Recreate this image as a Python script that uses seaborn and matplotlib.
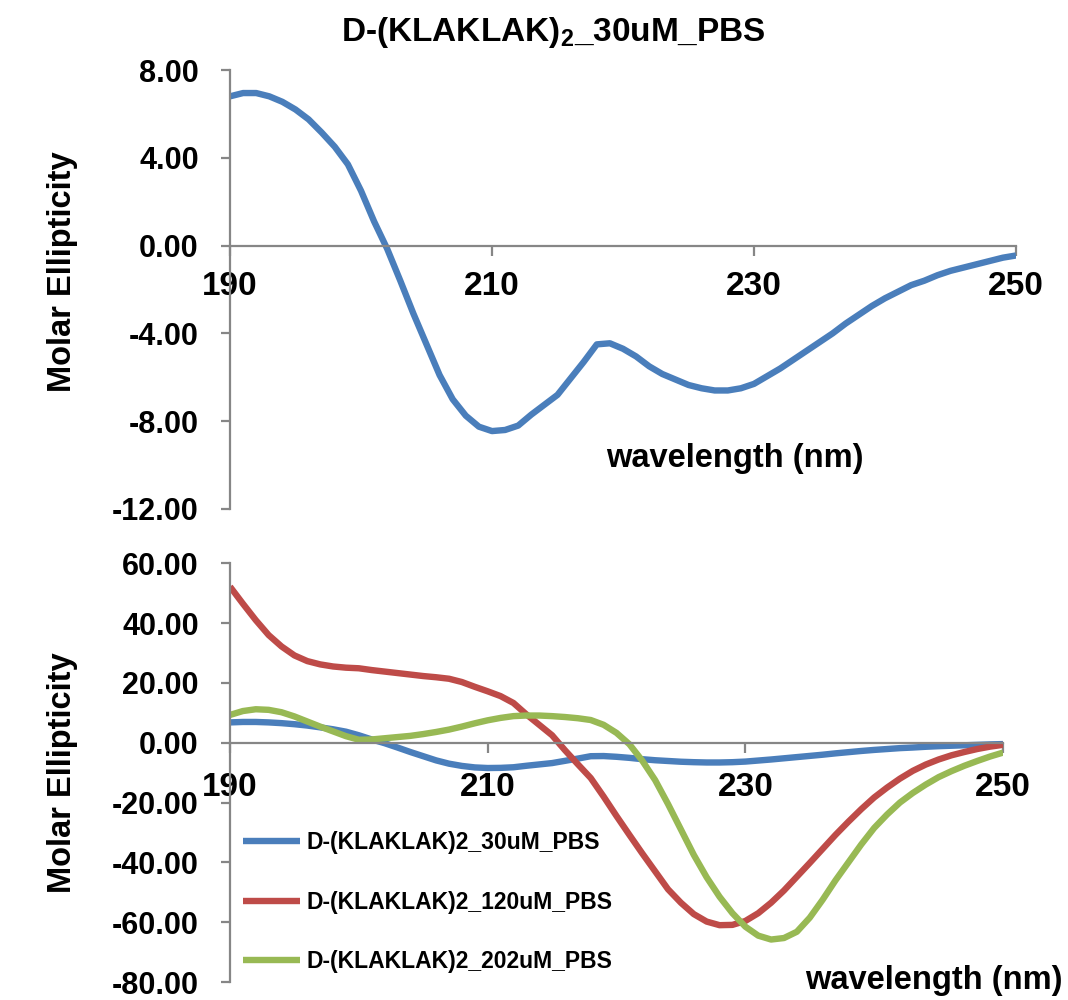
import numpy as np
import pandas as pd
import matplotlib
matplotlib.use("Agg")
import matplotlib.pyplot as plt
import seaborn as sns

# ---------------- data ----------------
wavelength = list(range(190, 251))

ellip_30uM = [6.8, 6.95, 6.95, 6.8, 6.55, 6.2, 5.75, 5.15, 4.5, 3.7,
              2.5, 1.1, -0.15, -1.6, -3.1, -4.5, -5.9, -7.0, -7.75, -8.25,
              -8.45, -8.4, -8.2, -7.7, -7.25, -6.8, -6.05, -5.3, -4.5, -4.45,
              -4.7, -5.05, -5.5, -5.85, -6.1, -6.35, -6.5, -6.6, -6.6, -6.5,
              -6.3, -5.95, -5.6, -5.2, -4.8, -4.4, -4.0, -3.55, -3.15, -2.75,
              -2.4, -2.1, -1.8, -1.6, -1.35, -1.15, -1.0, -0.85, -0.7, -0.55,
              -0.45]

ellip_120uM = [52.2, 46.5, 41.0, 36.0, 32.2, 29.2, 27.3, 26.2, 25.5, 25.1,
               24.9, 24.3, 23.8, 23.3, 22.8, 22.3, 21.9, 21.4, 20.3, 18.7,
               17.2, 15.6, 13.3, 9.5, 6.0, 2.5, -2.5, -7.2, -11.8, -18.0,
               -24.5, -30.8, -37.0, -43.0, -49.0, -53.5, -57.3, -59.8, -61.0, -60.9,
               -59.6, -57.0, -53.5, -49.4, -44.8, -40.2, -35.5, -30.8, -26.4, -22.2,
               -18.3, -15.0, -12.0, -9.4, -7.3, -5.6, -4.2, -3.1, -2.1, -1.3,
               -0.7]

ellip_202uM = [9.3, 10.6, 11.2, 11.0, 10.2, 8.8, 7.1, 5.4, 3.8, 2.2,
               1.0, 1.1, 1.5, 1.9, 2.3, 2.9, 3.6, 4.4, 5.4, 6.5,
               7.5, 8.3, 8.9, 9.1, 9.1, 8.9, 8.6, 8.2, 7.6, 6.0,
               3.3, -0.5, -6.0, -12.5, -20.5, -29.0, -37.5, -45.0, -51.5, -57.0,
               -61.5, -64.5, -65.8, -65.3, -63.2, -58.5, -52.5, -46.0, -40.0, -34.0,
               -28.5, -24.0, -20.0, -16.8, -14.0, -11.5, -9.5, -7.7, -6.1, -4.6,
               -3.3]

series_names = ["D-(KLAKLAK)2_30uM_PBS", "D-(KLAKLAK)2_120uM_PBS", "D-(KLAKLAK)2_202uM_PBS"]
series_colors = ["#4A7EBB", "#BE4B48", "#98B954"]

top_yticks = [8, 4, 0, -4, -8, -12]
bot_yticks = [60, 40, 20, 0, -20, -40, -60, -80]
xticks = [190, 210, 230, 250]

# ---------------- style ----------------
sns.set_style("white")
plt.rcParams["font.family"] = ["Liberation Sans", "DejaVu Sans"]
plt.rcParams["font.weight"] = "bold"
plt.rcParams["text.color"] = "black"
plt.rcParams["xtick.labelcolor"] = "black"
plt.rcParams["ytick.labelcolor"] = "black"
plt.rcParams["mathtext.fontset"] = "custom"
plt.rcParams["mathtext.rm"] = "Liberation Sans:bold"
plt.rcParams["mathtext.bf"] = "Liberation Sans:bold"

spine_color = "#868686"
LW = 4.6

fig = plt.figure(figsize=(10.68, 10.0), dpi=100)
ax1 = fig.add_axes([230 / 1068, 1 - 509 / 1000, 786 / 1068, 439 / 1000])
ax2 = fig.add_axes([230 / 1068, 1 - 982 / 1000, 773 / 1068, 418.7 / 1000])

df_top = pd.DataFrame({"wl": wavelength, "val": ellip_30uM})
sns.lineplot(data=df_top, x="wl", y="val", ax=ax1, color=series_colors[0], lw=LW,
             solid_capstyle="butt", solid_joinstyle="round")

df_bot = pd.concat([
    pd.DataFrame({"wl": wavelength, "val": vals, "series": name})
    for name, vals in zip(series_names, [ellip_30uM, ellip_120uM, ellip_202uM])
])
sns.lineplot(data=df_bot, x="wl", y="val", hue="series", hue_order=series_names,
             palette=dict(zip(series_names, series_colors)), ax=ax2, lw=LW,
             solid_capstyle="butt", solid_joinstyle="round")


def style_axes(ax, ylim, yticks, xpad):
    ax.set_xlim(190, 250)
    ax.set_ylim(*ylim)
    ax.set_xticks(xticks)
    ax.set_yticks(yticks)
    ax.set_yticklabels([f"{v:.2f}" for v in yticks])
    ax.set_xticklabels([str(v) for v in xticks])
    for s in ["top", "right"]:
        ax.spines[s].set_visible(False)
    ax.spines["bottom"].set_position(("data", 0))
    for s in ["left", "bottom"]:
        ax.spines[s].set_color(spine_color)
        ax.spines[s].set_linewidth(1.6)
    ax.tick_params(axis="y", direction="out", length=6.5, width=1.6, color=spine_color,
                   pad=16, left=True, labelsize=22, labelcolor="black")
    ax.tick_params(axis="x", direction="out", length=7, width=1.6, color=spine_color,
                   pad=xpad, bottom=True, labelsize=24, labelcolor="black")
    for lab in ax.get_xticklabels() + ax.get_yticklabels():
        lab.set_fontweight("bold")
    ax.set_xlabel("")
    ax.set_ylabel("")
    ax.patch.set_alpha(0)
    ax.grid(False)


style_axes(ax1, (-12, 8), top_yticks, 11)
style_axes(ax2, (-80, 60), bot_yticks, 14)

handles, labels = ax2.get_legend_handles_labels()
if ax2.get_legend() is not None:
    ax2.get_legend().remove()
leg = fig.legend(handles, labels, loc="upper left",
                 bbox_to_anchor=(243 / 1068, 1 - 831 / 1000),
                 bbox_transform=fig.transFigure, frameon=False,
                 prop={"size": 16.5, "weight": "bold"},
                 handlelength=2.5, handletextpad=0.25, labelspacing=1.6,
                 borderpad=0, borderaxespad=0)
for lh in leg.get_lines():
    lh.set_linewidth(LW)
for t in leg.get_texts():
    t.set_color("black")

fig.text(553 / 1068, 1 - 33 / 1000, "D-(KLAKLAK)$_\\mathbf{2}$_30uM_PBS",
         ha="center", va="center", fontsize=24, fontweight="bold")
fig.text(63 / 1068, 1 - 272 / 1000, "Molar Ellipticity", rotation=90,
         ha="center", va="center", fontsize=23.5, fontweight="bold")
fig.text(63 / 1068, 1 - 773 / 1000, "Molar Ellipticity", rotation=90,
         ha="center", va="center", fontsize=23.5, fontweight="bold")
fig.text(735 / 1068, 1 - 458 / 1000, "wavelength (nm)",
         ha="center", va="center", fontsize=23.5, fontweight="bold")
fig.text(934 / 1068, 1 - 980 / 1000, "wavelength (nm)",
         ha="center", va="center", fontsize=23.5, fontweight="bold")

fig.savefig("out.png", dpi=100, facecolor="white")
